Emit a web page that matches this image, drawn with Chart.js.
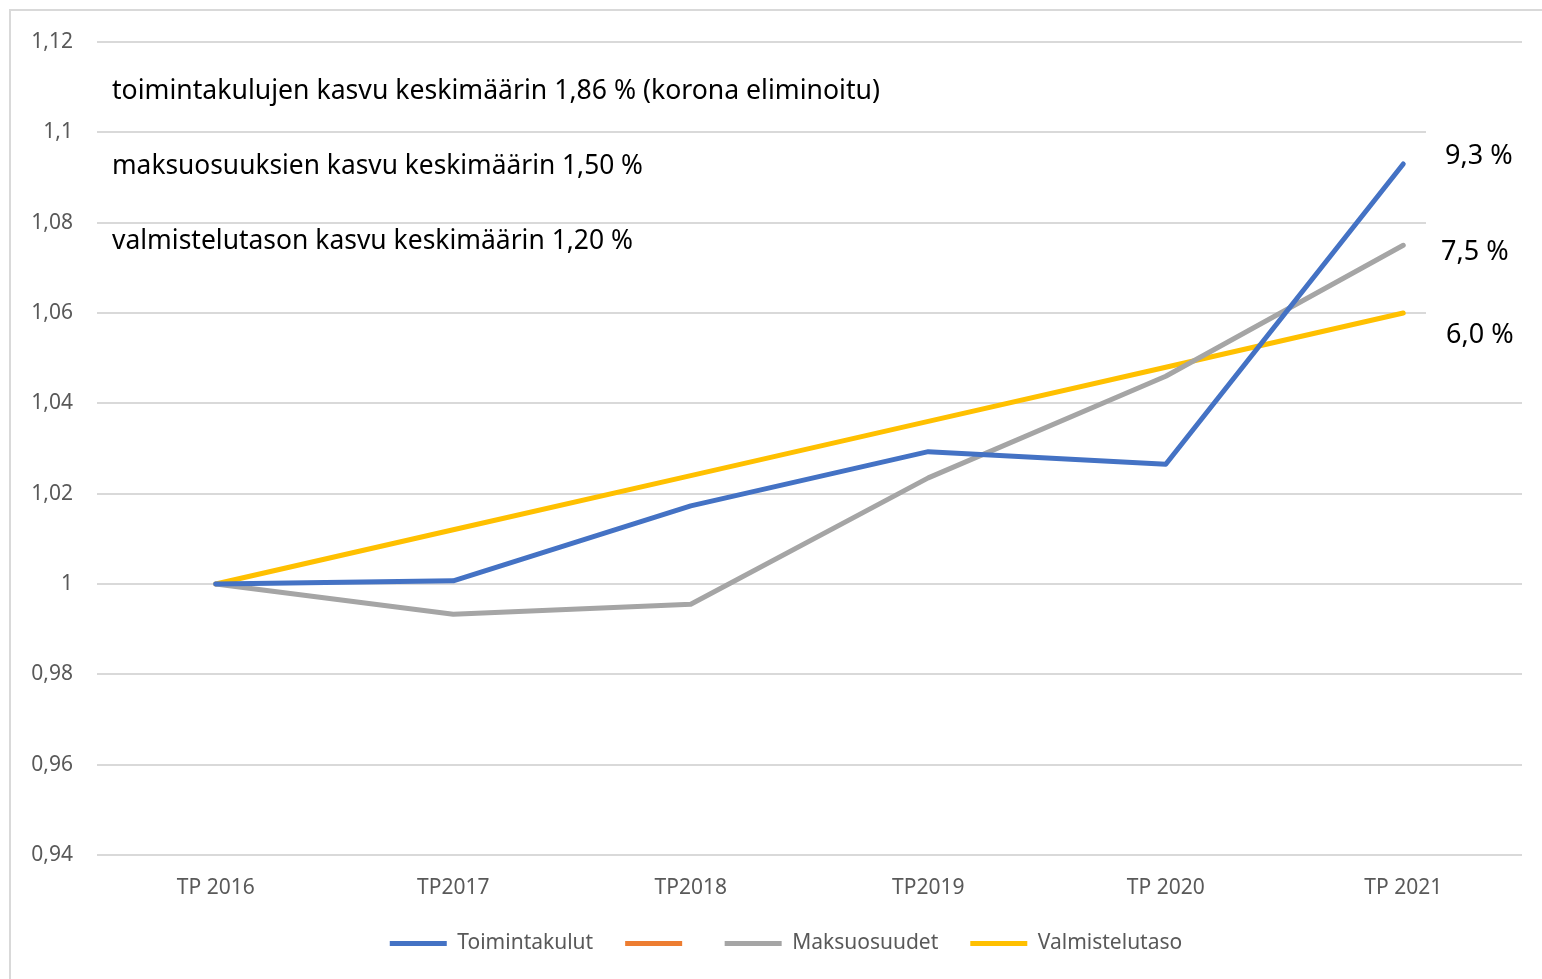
<!DOCTYPE html>
<html>
<head>
<meta charset="utf-8">
<script src="https://cdn.jsdelivr.net/npm/chart.js@4"></script>
<style>
  html, body { margin: 0; padding: 0; background: #fff; }
  #wrap { position: relative; width: 1542px; height: 979px; overflow: hidden; }
  #frame { position: absolute; left: 9px; top: 9px; width: 1540px; height: 990px;
           border: 2px solid #d9d9d9; box-sizing: border-box; pointer-events: none; }
  canvas { position: absolute; left: 0; top: 0; }
</style>
</head>
<body>
<div id="wrap">
  <canvas id="chart" width="1542" height="979"></canvas>
  <div id="frame"></div>
</div>
<script>
const categories = ['TP 2016', 'TP2017', 'TP2018', 'TP2019', 'TP 2020', 'TP 2021'];
const toimintakulut = [1.0, 1.0007, 1.0173, 1.0293, 1.0265, 1.093];
const maksuosuudet = [1.0, 0.9933, 0.9955, 1.0235, 1.0460, 1.075];
const valmistelutaso = [1.0, 1.012, 1.024, 1.036, 1.048, 1.06];
const tyhja = [];

const leftNotes = [
  'toimintakulujen kasvu keskimäärin 1,86 % (korona eliminoitu)',
  'maksuosuuksien kasvu keskimäärin 1,50 %',
  'valmistelutason kasvu keskimäärin 1,20 %'
];
const rightNotes = ['9,3 %', '7,5 %', '6,0 %'];

const FONT = '"Noto Sans", "DejaVu Sans", sans-serif';

const notesPlugin = {
  id: 'notes',
  afterLayout(chart) {
    // legend sits a little right of the canvas centre, as in the original
    chart.legend.left += 25;
    chart.legend.right += 25;
  },
  afterDatasetsDraw(chart) {
    const { ctx, chartArea } = chart;
    ctx.save();
    // white box behind the right-hand labels (covers grid lines)
    ctx.fillStyle = '#fff';
    ctx.fillRect(chartArea.right - 96, 120, 120, 240);
    ctx.fillStyle = '#000';
    ctx.textBaseline = 'middle';
    ctx.font = '27px ' + FONT;
    ctx.textAlign = 'left';
    const widths = [768, 531, 521];
    const ys = [91, 166, 241];
    leftNotes.forEach((t, i) => ctx.fillText(t, 112, ys[i], widths[i]));
    const rys = [156, 252, 335];
    const rx = [1445, 1441, 1446];
    rightNotes.forEach((t, i) => ctx.fillText(t, rx[i], rys[i], 68));
    ctx.restore();
  }
};

const ds = (label, data, color) => ({
  label, data,
  borderColor: color, backgroundColor: color,
  borderWidth: 5, pointRadius: 0, tension: 0,
  borderCapStyle: 'round', borderJoinStyle: 'round'
});

new Chart(document.getElementById('chart'), {
  type: 'line',
  data: {
    labels: categories,
    datasets: [
      ds('Toimintakulut', toimintakulut, '#4472C4'),
      ds('', tyhja, '#ED7D31'),
      ds('Maksuosuudet', maksuosuudet, '#A5A5A5'),
      ds('Valmistelutaso', valmistelutaso, '#FFC000')
    ]
  },
  options: {
    responsive: false,
    animation: false,
    layout: { padding: { left: 0, right: 20, top: 42, bottom: 15 } },
    plugins: {
      tooltip: { enabled: false },
      legend: {
        position: 'bottom',
        labels: {
          boxWidth: 57, boxHeight: 5, padding: 32,
          color: '#595959',
          font: { family: FONT, size: 21 },
          generateLabels(chart) {
            return chart.data.datasets.map((d, i) => ({
              text: d.label, fillStyle: d.borderColor, strokeStyle: d.borderColor,
              lineWidth: 0, datasetIndex: i, fontColor: '#595959'
            }));
          }
        }
      }
    },
    scales: {
      x: {
        offset: true,
        afterFit(scale) { scale.height = 46; },
        grid: { display: false },
        border: { display: false },
        ticks: { color: '#595959', font: { family: FONT, size: 21 }, padding: 12, maxRotation: 0 }
      },
      y: {
        min: 0.94, max: 1.12,
        afterFit(scale) { scale.width = 97; },
        grid: { color: '#d9d9d9', lineWidth: 2, drawTicks: false },
        border: { display: false },
        ticks: {
          stepSize: 0.02, padding: 24, color: '#595959',
          font: { family: FONT, size: 21 },
          callback: v => String(Number(v.toFixed(2))).replace('.', ',')
        }
      }
    }
  },
  plugins: [notesPlugin]
});
</script>
</body>
</html>
